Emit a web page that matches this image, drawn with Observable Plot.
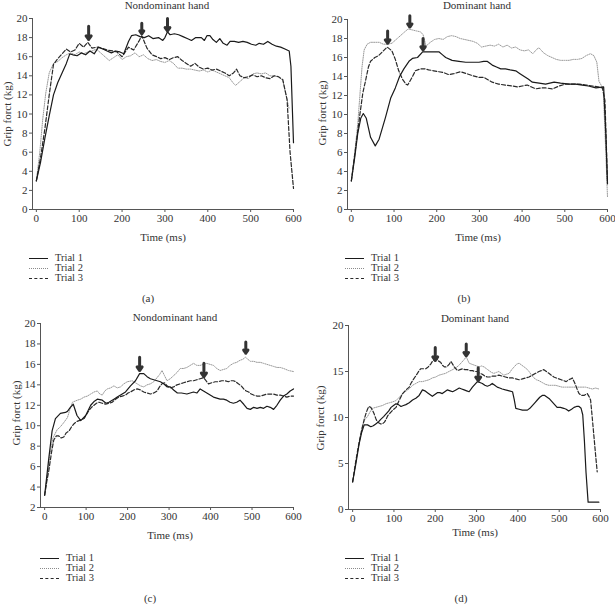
<!DOCTYPE html>
<html><head><meta charset="utf-8">
<script src="https://cdn.jsdelivr.net/npm/d3@7"></script>
<script src="https://cdn.jsdelivr.net/npm/@observablehq/plot@0.6"></script>
<style>
body{margin:0;background:#fff;}
#root{position:relative;width:615px;height:604px;overflow:hidden;font-family:"Liberation Serif",serif;color:#333;}
.t{position:absolute;white-space:nowrap;font-size:11px;line-height:11px;}
.lg{position:absolute;white-space:nowrap;font-size:10.5px;line-height:9px;height:9px;}
.yl{position:absolute;white-space:nowrap;font-size:11px;line-height:11px;transform:translate(-50%,-50%) rotate(-90deg);}
.c{transform:translate(-50%,-50%);}
.sw{display:inline-block;width:19px;height:0;vertical-align:middle;margin-right:7px;}
</style></head><body><div id="root"></div>
<script>
const trialNames = ["Trial 1", "Trial 2", "Trial 3"];
const panelTitles = ["Nondominant hand", "Dominant hand", "Nondominant hand", "Dominant hand"];
const panelLetters = ["(a)", "(b)", "(c)", "(d)"];
const xLabel = "Time (ms)";
const yLabel = "Grip forct (kg)";
const xTicks = [0, 100, 200, 300, 400, 500, 600];
const yTicksAB = [0, 2, 4, 6, 8, 10, 12, 14, 16, 18, 20];
const yTicksC = [2, 4, 6, 8, 10, 12, 14, 16, 18, 20];
const yTicksD = [0, 5, 10, 15, 20];

// Panel (a): [time ms, force kg]
const a_trial1 = [[0,3],[10,5],[20,7.5],[30,9.8],[40,12],[50,13.3],[60,14.3],[70,15.3],[78,16.3],[85,16.2],[95,16.1],[105,16.4],[115,16.2],[125,16.6],[135,16.3],[145,17.0],[155,16.8],[165,16.6],[175,16.4],[185,16.6],[195,16.5],[204,16.3],[215,17.6],[222,18.2],[232,18.3],[242,18.1],[252,18.0],[262,18.2],[272,17.9],[285,18.0],[295,17.7],[300,18.0],[306,18.6],[312,18.3],[322,18.4],[332,18.3],[342,18.1],[352,17.9],[362,17.7],[372,18.0],[385,18.0],[392,17.7],[398,18.2],[405,18.2],[412,17.8],[420,17.5],[428,17.9],[436,17.4],[445,17.2],[452,17.6],[462,17.6],[472,17.5],[482,17.6],[492,17.5],[502,17.3],[512,17.2],[520,17.4],[530,17.3],[540,17.6],[550,17.3],[560,17.1],[570,17.0],[580,16.8],[590,16.6],[594,15],[600,7]];
const a_trial2 = [[0,3],[8,6],[15,9.5],[22,12.2],[30,14.3],[40,15.3],[50,15.5],[60,15.9],[70,16.2],[80,16.4],[90,16.2],[100,16.5],[110,16.3],[120,16.5],[130,16.6],[140,16.8],[150,16.4],[160,16.0],[170,15.6],[180,15.9],[190,16.2],[200,15.7],[210,16.0],[220,16.1],[230,16.4],[240,16.0],[250,16.2],[260,15.8],[270,15.6],[280,15.7],[290,15.5],[300,15.4],[310,15.6],[320,15.3],[330,14.8],[340,14.8],[350,14.7],[360,14.7],[370,14.6],[380,14.5],[390,14.6],[400,14.4],[410,14.6],[420,14.4],[430,14.2],[440,14.0],[450,13.8],[460,13.2],[465,13.0],[475,13.4],[485,13.8],[495,13.7],[505,14.2],[515,14.3],[525,14.2],[535,14.3],[545,14.0],[555,14.0],[565,13.9],[575,13.5],[585,11.5],[590,10.5]];
const a_trial3 = [[0,3],[10,5.5],[20,8.5],[30,12],[40,15.2],[50,15.8],[60,16.3],[70,16.8],[80,16.5],[90,16.7],[100,17.4],[110,17.0],[120,17.5],[130,16.9],[141,17.0],[152,16.9],[165,16.7],[178,16.6],[188,16.5],[200,16.0],[215,17.0],[227,16.7],[239,17.6],[246,18.2],[258,16.9],[270,16.2],[281,16.0],[290,15.8],[300,15.9],[310,15.7],[320,15.9],[330,16.0],[340,15.6],[350,15.3],[360,15.0],[370,15.3],[380,14.9],[390,14.7],[400,14.8],[410,14.6],[420,14.7],[430,14.5],[440,14.3],[450,14.0],[460,14.3],[467,14.7],[475,14.0],[485,13.8],[495,13.9],[505,14.1],[515,13.9],[525,14.0],[535,13.8],[545,13.7],[555,14.0],[565,13.9],[575,13.6],[585,11.5],[592,6],[600,2.2]];
const a_arrows = [[122,19.2,17.8],[246,19.5,18.4],[306,20.0,18.7]];

// Panel (b)
const b_trial1 = [[0,3],[8,5.5],[15,8],[22,9.6],[28,10.1],[35,9.6],[45,7.6],[56,6.7],[65,7.4],[80,9.7],[92,11.7],[103,12.8],[113,14.0],[123,14.8],[135,15.6],[143,15.9],[155,16.0],[167,16.6],[180,16.6],[195,16.6],[205,16.6],[213,16.3],[221,16.0],[236,15.7],[252,15.6],[268,15.5],[285,15.5],[299,15.5],[310,15.6],[318,15.6],[330,15.2],[340,15.0],[350,14.8],[361,14.8],[372,14.7],[385,14.6],[395,14.3],[405,14.0],[415,13.7],[424,13.4],[440,13.3],[455,13.2],[465,13.3],[475,13.4],[490,13.3],[510,13.2],[525,13.2],[541,13.1],[555,13.0],[573,12.8],[591,12.9],[596,8],[600,2.7]];
const b_trial2 = [[0,3],[8,6],[15,9],[20,12],[25,15],[30,16.8],[37,17.4],[45,17.6],[55,17.6],[65,17.6],[75,17.4],[85,17.4],[95,17.5],[105,17.9],[115,18.3],[125,18.7],[133,19.0],[143,18.9],[152,18.8],[162,18.7],[168,18.4],[175,17.2],[185,17.6],[195,17.9],[205,18.0],[215,17.9],[225,18.2],[235,18.3],[245,18.2],[255,18.0],[265,17.9],[275,17.8],[285,17.7],[295,17.5],[305,17.1],[315,17.2],[325,17.3],[335,17.2],[345,17.4],[355,17.1],[365,17.3],[375,17.0],[385,17.1],[395,16.8],[405,16.7],[415,16.8],[425,16.4],[435,16.9],[440,17.0],[450,16.5],[460,16.2],[470,16.0],[480,15.8],[490,15.7],[500,15.7],[510,15.7],[520,15.8],[530,15.8],[540,15.9],[550,16.2],[560,16.4],[568,16.2],[575,15.5],[580,13.5],[590,12.7],[596,6],[600,1.3]];
const b_trial3 = [[0,3],[10,6.5],[20,10],[27,12.3],[33,13.5],[40,15],[45,15.6],[55,16.0],[64,16.2],[75,16.7],[84,17.1],[95,16.7],[103,15.8],[111,14.6],[120,13.7],[128,13.2],[132,13.1],[142,13.9],[150,14.6],[162,14.8],[172,14.8],[181,14.7],[193,14.6],[205,14.5],[217,14.4],[228,14.2],[240,14.3],[256,14.5],[270,14.3],[283,14.1],[299,13.9],[311,13.9],[330,13.4],[345,13.2],[361,13.1],[377,13.0],[390,12.9],[400,13.0],[412,13.1],[422,12.9],[432,12.7],[445,12.8],[455,12.8],[471,12.7],[487,13.0],[502,13.2],[518,13.2],[534,13.2],[550,13.1],[565,13.0],[578,12.9],[588,12.8],[594,11.5],[600,2.9]];
const b_arrows = [[85,18.8,17.5],[137,20.4,19.2],[168,18.0,16.8]];

// Panel (c)
const c_trial1 = [[0,3.2],[5,5],[10,6.8],[18,9.5],[26,10.7],[38,11.2],[50,11.3],[55,11.4],[62,11.8],[69,12.1],[78,11.0],[87,10.5],[99,11.0],[111,12.0],[120,12.4],[127,12.6],[139,12.5],[148,12.2],[155,12.3],[167,12.6],[175,12.8],[183,13.0],[195,13.3],[207,13.9],[219,14.4],[229,15.1],[239,15.1],[247,14.8],[255,14.6],[263,14.5],[271,14.4],[279,14.3],[287,14.1],[295,13.8],[303,13.8],[311,13.5],[320,13.2],[330,13.2],[343,13.1],[351,13.2],[359,13.3],[367,13.2],[375,13.6],[383,13.4],[391,13.2],[399,13.0],[407,12.8],[415,12.7],[423,12.6],[431,12.6],[439,12.5],[447,12.3],[455,12.2],[463,12.3],[471,12.5],[480,12.1],[488,11.7],[496,11.6],[504,11.8],[512,11.7],[520,11.8],[528,11.7],[536,11.9],[544,11.8],[552,11.6],[560,12.0],[568,12.5],[576,12.9],[584,13.1],[592,13.4],[600,13.6]];
const c_trial2 = [[0,3.2],[6,5],[12,7],[20,8.8],[30,9.6],[38,9.9],[46,10.3],[55,10.8],[61,11.6],[67,12.3],[79,12.5],[87,12.6],[95,12.8],[103,12.9],[111,13.1],[119,13.3],[127,13.4],[133,13.1],[139,13.0],[145,13.4],[151,13.6],[159,13.7],[167,13.9],[175,13.7],[183,13.8],[191,14.1],[199,14.3],[211,14.4],[223,14.1],[231,13.9],[239,13.8],[247,14.0],[255,14.1],[263,14.3],[271,14.7],[277,15.0],[283,15.4],[289,14.9],[295,14.4],[303,14.6],[311,14.9],[319,15.2],[327,15.6],[335,15.6],[343,15.7],[351,15.9],[359,16.1],[367,15.9],[375,15.9],[383,16.0],[391,16.1],[399,16.0],[407,15.9],[415,15.6],[423,15.4],[431,15.5],[439,15.6],[447,15.9],[455,16.1],[463,16.2],[471,16.4],[478,16.5],[484,16.7],[490,16.5],[496,16.3],[504,16.3],[512,16.2],[520,16.2],[528,16.1],[536,16.0],[544,15.9],[552,15.8],[560,15.7],[568,15.7],[576,15.6],[588,15.4],[600,15.3]];
const c_trial3 = [[0,3.2],[5,4.5],[10,5.6],[17,7.5],[22,8.6],[28,9.0],[34,9.0],[40,8.8],[46,8.9],[52,9.3],[59,9.5],[65,9.9],[71,10.2],[77,10.4],[83,10.5],[89,10.6],[95,10.7],[101,11.1],[107,11.5],[113,11.8],[119,12.0],[125,12.2],[131,12.3],[139,12.2],[147,12.1],[155,12.2],[163,12.3],[171,12.6],[179,12.8],[187,12.9],[195,13.0],[201,13.2],[207,13.3],[215,13.5],[223,13.6],[231,13.5],[239,13.3],[247,13.2],[255,13.1],[263,13.2],[271,13.4],[277,13.8],[283,14.1],[289,14.2],[295,13.9],[303,13.7],[311,13.8],[319,14.0],[327,14.1],[335,14.2],[343,14.3],[351,14.4],[359,14.4],[367,14.5],[375,14.6],[383,14.7],[389,14.4],[395,14.1],[403,14.2],[411,14.3],[419,14.3],[427,14.4],[435,14.4],[443,14.3],[449,14.4],[455,14.4],[461,14.3],[467,14.1],[474,13.9],[480,13.6],[486,13.4],[492,13.3],[498,13.1],[504,13.0],[512,12.9],[520,12.9],[528,13.0],[536,13.1],[544,13.1],[552,13.1],[560,13.0],[568,13.0],[576,12.9],[584,12.8],[592,12.9],[600,12.9]];
const c_arrows = [[229,16.7,15.4],[384,16.1,14.8],[485,18.2,17.1]];

// Panel (d)
const d_trial1 = [[0,3],[8,5],[16,7.2],[22,8.4],[28,9.2],[36,9.2],[44,9.0],[50,9.1],[56,9.3],[62,9.5],[68,9.8],[75,10.1],[81,10.4],[87,10.7],[93,11.1],[99,11.3],[105,11.5],[111,11.4],[117,11.2],[123,11.3],[129,11.4],[137,11.6],[145,11.9],[153,12.1],[161,12.4],[169,13.0],[175,12.9],[181,12.7],[187,12.5],[193,12.3],[199,12.5],[205,12.7],[211,12.7],[217,12.6],[223,12.8],[229,13.0],[236,12.9],[242,12.8],[250,13.0],[258,13.2],[264,13.1],[270,13.0],[276,12.9],[282,12.8],[290,13.3],[296,13.6],[302,13.9],[308,13.8],[314,13.7],[320,13.5],[326,13.4],[332,13.5],[338,13.7],[344,13.5],[350,13.3],[356,13.2],[362,13.1],[370,13.0],[379,12.9],[387,12.8],[391,12.0],[395,11.0],[403,10.9],[411,10.8],[417,10.8],[423,10.8],[429,11.0],[435,11.3],[441,11.6],[447,11.9],[453,12.2],[459,12.4],[465,12.4],[471,12.2],[477,12.0],[483,11.7],[489,11.4],[495,11.1],[503,11.1],[511,11.0],[517,10.9],[523,10.7],[530,10.9],[536,11.1],[542,11.2],[548,11.2],[553,11.0],[557,10.3],[561,7.5],[565,4.0],[570,0.8],[580,0.8],[590,0.8],[596,0.8]];
const d_trial2 = [[0,3],[8,5.2],[16,7.4],[24,9.2],[30,9.8],[36,10.1],[42,10.6],[48,11.0],[56,11.1],[64,11.2],[72,11.3],[81,11.5],[89,11.6],[97,11.7],[103,11.8],[109,12.0],[115,12.3],[121,12.6],[127,12.8],[133,13.0],[139,13.2],[145,13.5],[153,13.7],[161,13.9],[169,13.9],[177,14.0],[185,14.1],[193,14.3],[201,14.4],[209,14.6],[217,14.7],[225,14.8],[233,15.0],[242,15.2],[250,15.4],[258,15.7],[264,16.0],[270,16.3],[275,16.6],[279,16.2],[282,15.9],[288,15.8],[294,15.7],[300,15.6],[306,15.5],[312,15.6],[318,15.5],[324,15.3],[330,15.1],[336,14.9],[342,14.8],[348,14.9],[354,15.0],[360,14.8],[366,14.6],[372,14.7],[379,14.8],[385,15.2],[391,15.5],[397,15.8],[403,15.9],[409,15.7],[415,15.5],[421,15.3],[427,15.0],[433,14.6],[439,14.3],[445,14.1],[451,14.0],[459,13.8],[467,13.6],[475,13.5],[483,13.5],[491,13.5],[499,13.4],[507,13.3],[515,13.3],[523,13.3],[532,13.3],[540,13.3],[548,13.3],[556,13.3],[564,13.3],[572,13.2],[580,13.1],[588,13.2],[596,13.1]];
const d_trial3 = [[0,3],[6,4.8],[12,6.4],[18,7.8],[24,9.0],[28,9.8],[32,10.4],[36,10.9],[39,11.2],[44,11.1],[48,10.8],[52,10.4],[56,9.9],[60,9.5],[64,9.4],[68,9.3],[72,9.3],[77,9.5],[81,9.8],[85,10.2],[91,10.5],[97,10.8],[105,11.1],[113,11.9],[121,12.6],[129,13.0],[137,13.3],[141,13.7],[145,14.0],[151,14.4],[157,14.8],[161,15.1],[165,15.3],[171,15.3],[177,15.3],[183,15.5],[189,15.8],[193,16.1],[197,16.3],[201,16.3],[205,16.3],[209,16.1],[213,16.0],[217,15.7],[222,15.5],[226,15.5],[230,15.6],[234,15.8],[238,16.1],[242,15.8],[246,15.5],[250,15.3],[254,15.1],[260,15.2],[266,15.3],[272,15.2],[278,15.2],[284,15.1],[290,15.1],[296,15.0],[302,15.0],[308,14.8],[314,14.7],[320,14.5],[326,14.4],[332,14.4],[338,14.5],[346,14.5],[354,14.6],[362,14.5],[370,14.4],[378,14.3],[387,14.3],[395,14.2],[403,14.1],[411,14.2],[419,14.3],[427,14.4],[435,14.6],[443,14.8],[451,15.0],[457,15.1],[463,15.2],[469,15.0],[475,14.8],[481,14.6],[487,14.4],[493,14.3],[499,14.2],[505,14.1],[511,14.0],[517,13.9],[523,14.1],[528,14.2],[532,14.3],[536,13.9],[540,13.5],[544,13.0],[548,12.6],[554,12.4],[560,12.4],[564,12.5],[568,12.6],[572,12.3],[576,11.9],[580,10.0],[584,8.0],[588,6.0],[592,4.1]];
const d_arrows = [[200,17.6,16.2],[275,18.0,16.7],[304,15.4,14.0]];

const panels = [
  {series:[a_trial1,a_trial2,a_trial3], arrows:a_arrows, left:0, top:0, w:305, h:245, mL:32, mT:18, mR:12, mB:36, x0:-9, yDom:[0,20], yTicks:yTicksAB,
   title:[167,5], ylab:[7,114], xlab:[163,237], letter:[148,298], leg:[29,257]},
  {series:[b_trial1,b_trial2,b_trial3], arrows:b_arrows, left:305, top:0, w:310, h:245, mL:42, mT:19, mR:8, mB:36, x0:-9, yDom:[0,20], yTicks:yTicksAB,
   title:[477,5], ylab:[322,113], xlab:[478,237], letter:[464,298], leg:[345,257]},
  {series:[c_trial1,c_trial2,c_trial3], arrows:c_arrows, left:0, top:300, w:305, h:245, mL:40, mT:23, mR:12, mB:38, x0:-10, yDom:[2,20], yTicks:yTicksC,
   title:[175,317], ylab:[16,413], xlab:[170,535], letter:[150,598], leg:[40,557]},
  {series:[d_trial1,d_trial2,d_trial3], arrows:d_arrows, left:305, top:300, w:310, h:245, mL:43, mT:25, mR:15, mB:36, x0:-10, yDom:[0,20], yTicks:yTicksD,
   title:[475,318], ylab:[320,418], xlab:[475,532], letter:[461,598], leg:[345,557]}
];

const lineStyles = [
  {stroke:"#1a1a1a", strokeWidth:1.2},
  {stroke:"#9a9a9a", strokeWidth:1, strokeDasharray:"1,1.2"},
  {stroke:"#2a2a2a", strokeWidth:1.2, strokeDasharray:"4,2"}
];
const legendCss = ["border-top:1.6px solid #1a1a1a","border-top:1.2px dotted #8a8a8a","border-top:1.4px dashed #2a2a2a"];

const root = document.getElementById("root");
function addText(txt, x, y, cls) {
  const d = document.createElement("div");
  d.className = cls;
  d.textContent = txt;
  d.style.left = x + "px";
  d.style.top = y + "px";
  root.appendChild(d);
  return d;
}

panels.forEach((p, pi) => {
  const toObj = (s) => s.map(([t, v]) => ({t, v}));
  const arrows = p.arrows.map(([t, top, tip]) => ({t, top, tip}));
  const svg = Plot.plot({
    width: p.w, height: p.h,
    marginLeft: p.mL, marginTop: p.mT, marginRight: p.mR, marginBottom: p.mB,
    x: {domain: [p.x0, 600]},
    y: {domain: p.yDom},
    style: {fontFamily: '"Liberation Serif", serif', fontSize: "11px", color: "#333", background: "transparent", overflow: "visible"},
    marks: [
      Plot.axisX({ticks: xTicks, tickSize: 3, tickPadding: 2, label: null, stroke: "#555"}),
      Plot.axisY({ticks: p.yTicks, tickSize: 3, tickPadding: 2, label: null, stroke: "#555"}),
      Plot.ruleX([p.x0], {stroke: "#555"}),
      Plot.ruleY([p.yDom[0]], {stroke: "#555"}),
      Plot.line(toObj(p.series[1]), {x: "t", y: "v", ...lineStyles[1]}),
      Plot.line(toObj(p.series[2]), {x: "t", y: "v", ...lineStyles[2]}),
      Plot.line(toObj(p.series[0]), {x: "t", y: "v", ...lineStyles[0]}),
      Plot.arrow(arrows, {x1: "t", y1: "top", x2: "t", y2: "tip", stroke: "#333", strokeWidth: 3, headLength: 4, headAngle: 70})
    ]
  });
  svg.style.position = "absolute";
  svg.style.left = p.left + "px";
  svg.style.top = p.top + "px";
  root.appendChild(svg);

  addText(panelTitles[pi], p.title[0], p.title[1], "t c");
  addText(yLabel, p.ylab[0], p.ylab[1], "yl");
  addText(xLabel, p.xlab[0], p.xlab[1], "t c");
  addText(panelLetters[pi], p.letter[0], p.letter[1], "t c");
  trialNames.forEach((name, i) => {
    const d = document.createElement("div");
    d.className = "lg";
    d.style.left = p.leg[0] + "px";
    d.style.top = (p.leg[1] + i * 10 - 4.5) + "px";
    const sw = document.createElement("span");
    sw.className = "sw";
    sw.style.cssText = legendCss[i];
    d.appendChild(sw);
    d.appendChild(document.createTextNode(name));
    root.appendChild(d);
  });
});
</script>
</body></html>
